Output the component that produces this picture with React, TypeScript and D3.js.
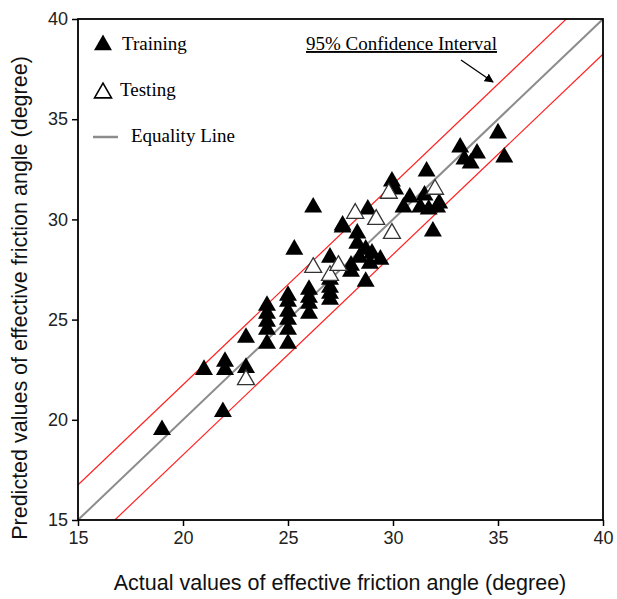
import React, { useEffect, useRef } from 'react';
import * as d3 from 'd3';

// Training points [actual, predicted]
const trainingActual = [
  19, 21, 21.9, 22, 22, 23, 23,
  24, 24, 24, 24, 24,
  25, 25, 25, 25, 25, 25, 25.3,
  26, 26, 26, 26, 26.2,
  27, 27, 27, 27, 27, 27.6, 27.6,
  28, 28, 28.3, 28.3, 28.4, 28.7, 28.8, 28.9, 29, 29.4, 28.7,
  29.95, 30.1, 30.5, 30.8, 31.3,
  31.6, 31.5, 31.7, 32.1, 32.2, 31.9,
  33.2, 33.4, 33.7, 34, 35, 35.3,
];
const trainingPredicted = [
  19.5, 22.5, 20.4, 22.9, 22.5, 22.6, 24.1,
  25.7, 25.3, 24.9, 24.5, 23.8,
  26.2, 25.9, 25.4, 25, 24.5, 23.8, 28.5,
  26.5, 26.1, 25.8, 25.3, 30.6,
  28.1, 26.6, 26.3, 26, 27, 29.7, 29.6,
  27.7, 27.4, 29.3, 28.8, 28.1, 28.5, 30.5, 27.8, 28.3, 28, 26.9,
  31.9, 31.5, 30.6, 31.1, 30.6,
  32.4, 31.2, 30.5, 30.6, 30.8, 29.4,
  33.6, 33, 32.8, 33.3, 34.3, 33.1,
];

// Testing points [actual, predicted]
const testingActual = [23, 26.2, 27, 27.4, 28.2, 29.2, 29.8, 29.95, 32];
const testingPredicted = [22, 27.6, 27.2, 27.7, 30.3, 30, 31.3, 29.3, 31.5];

const xTicks = [15, 20, 25, 30, 35, 40];
const yTicks = [15, 20, 25, 30, 35, 40];
const ciOffset = 1.75;

const App = () => {
  const svgRef = useRef<SVGSVGElement>(null);

  useEffect(() => {
    document.body.style.margin = '0';
    const svg = d3.select(svgRef.current);
    svg.selectAll('*').remove();

    const margin = { top: 19, right: 14, bottom: 79, left: 78 };
    const width = 617;
    const height = 599;
    const w = width - margin.left - margin.right;
    const h = height - margin.top - margin.bottom;

    const x = d3.scaleLinear().domain([15, 40]).range([0, w]);
    const y = d3.scaleLinear().domain([15, 40]).range([h, 0]);

    const g = svg.append('g').attr('transform', `translate(${margin.left},${margin.top})`);

    g.append('defs').append('clipPath').attr('id', 'plotclip')
      .append('rect').attr('width', w).attr('height', h);

    // Axes
    const xAxis = g.append('g')
      .attr('transform', `translate(0,${h})`)
      .call(d3.axisBottom(x).tickValues(xTicks).tickSize(6).tickPadding(5));
    const yAxis = g.append('g')
      .call(d3.axisLeft(y).tickValues(yTicks).tickSize(6).tickPadding(4));
    [xAxis, yAxis].forEach(ax => {
      ax.selectAll('text')
        .style('font-family', '"Liberation Sans", Arial, sans-serif')
        .style('font-size', '18px')
        .style('fill', '#222');
      ax.selectAll('line').style('stroke', '#000').style('stroke-width', 1.5);
      ax.select('.domain').remove();
    });

    // Lines
    const lines = g.append('g').attr('clip-path', 'url(#plotclip)');
    const lineData = [
      { off: ciOffset, color: '#ff2020', width: 1.2 },
      { off: -ciOffset, color: '#ff2020', width: 1.2 },
      { off: 0, color: '#8c8c8c', width: 2 },
    ];
    lineData.forEach(l => {
      lines.append('line')
        .attr('x1', x(10)).attr('y1', y(10 + l.off))
        .attr('x2', x(45)).attr('y2', y(45 + l.off))
        .style('stroke', l.color)
        .style('stroke-width', l.width);
    });

    const tri = d3.symbol().type(d3.symbolTriangle).size(140);
    const hollowTri = d3.symbol().type(d3.symbolTriangle).size(125);

    // Training
    g.append('g').selectAll('path')
      .data(trainingActual.map((a, i) => [a, trainingPredicted[i]]))
      .enter().append('path')
      .attr('d', tri)
      .attr('transform', d => `translate(${x(d[0])},${y(d[1])})`)
      .style('fill', '#000');

    // Testing
    g.append('g').selectAll('path')
      .data(testingActual.map((a, i) => [a, testingPredicted[i]]))
      .enter().append('path')
      .attr('d', hollowTri)
      .attr('transform', d => `translate(${x(d[0])},${y(d[1])})`)
      .style('fill', '#fff')
      .style('stroke', '#333')
      .style('stroke-width', 1.3);

    // Frame
    g.append('rect')
      .attr('width', w).attr('height', h)
      .style('fill', 'none')
      .style('stroke', '#000')
      .style('stroke-width', 1.8);

    // Legend
    const serif = '"Liberation Serif", "Times New Roman", serif';
    svg.append('path').attr('d', tri)
      .attr('transform', 'translate(103,45)').style('fill', '#000');
    svg.append('text').attr('x', 122).attr('y', 50)
      .style('font-family', serif).style('font-size', '19px').text('Training');
    svg.append('path').attr('d', hollowTri)
      .attr('transform', 'translate(103,93)')
      .style('fill', '#fff').style('stroke', '#000').style('stroke-width', 1.6);
    svg.append('text').attr('x', 120).attr('y', 96)
      .style('font-family', serif).style('font-size', '19px').text('Testing');
    svg.append('line').attr('x1', 93).attr('x2', 118).attr('y1', 137).attr('y2', 137)
      .style('stroke', '#8c8c8c').style('stroke-width', 2.5);
    svg.append('text').attr('x', 131).attr('y', 142)
      .style('font-family', serif).style('font-size', '19px').text('Equality Line');

    // CI annotation
    svg.append('text').attr('x', 306).attr('y', 50)
      .style('font-family', serif).style('font-size', '19px')
      .style('text-decoration', 'underline')
      .text('95% Confidence Interval');
    svg.append('defs').append('marker')
      .attr('id', 'arrowhead').attr('viewBox', '0 0 10 10')
      .attr('refX', 9).attr('refY', 5)
      .attr('markerWidth', 7).attr('markerHeight', 7)
      .attr('orient', 'auto')
      .append('path').attr('d', 'M0,0 L10,5 L0,10 z').style('fill', '#000');
    svg.append('line').attr('x1', 461).attr('y1', 60).attr('x2', 493).attr('y2', 82)
      .style('stroke', '#000').style('stroke-width', 1.3)
      .attr('marker-end', 'url(#arrowhead)');

    // Axis titles
    const sans = '"Liberation Sans", Arial, sans-serif';
    svg.append('text')
      .attr('x', 340).attr('y', 590)
      .attr('text-anchor', 'middle')
      .style('font-family', sans).style('font-size', '21.5px').style('fill', '#111')
      .text('Actual values of effective friction angle (degree)');
    svg.append('text')
      .attr('transform', `translate(27,${298}) rotate(-90)`)
      .attr('text-anchor', 'middle')
      .style('font-family', sans).style('font-size', '21.5px').style('fill', '#111')
      .text('Predicted values of effective friction angle (degree)');
  }, []);

  return <svg ref={svgRef} width={617} height={599} style={{ display: 'block' }} />;
};

export default App;
